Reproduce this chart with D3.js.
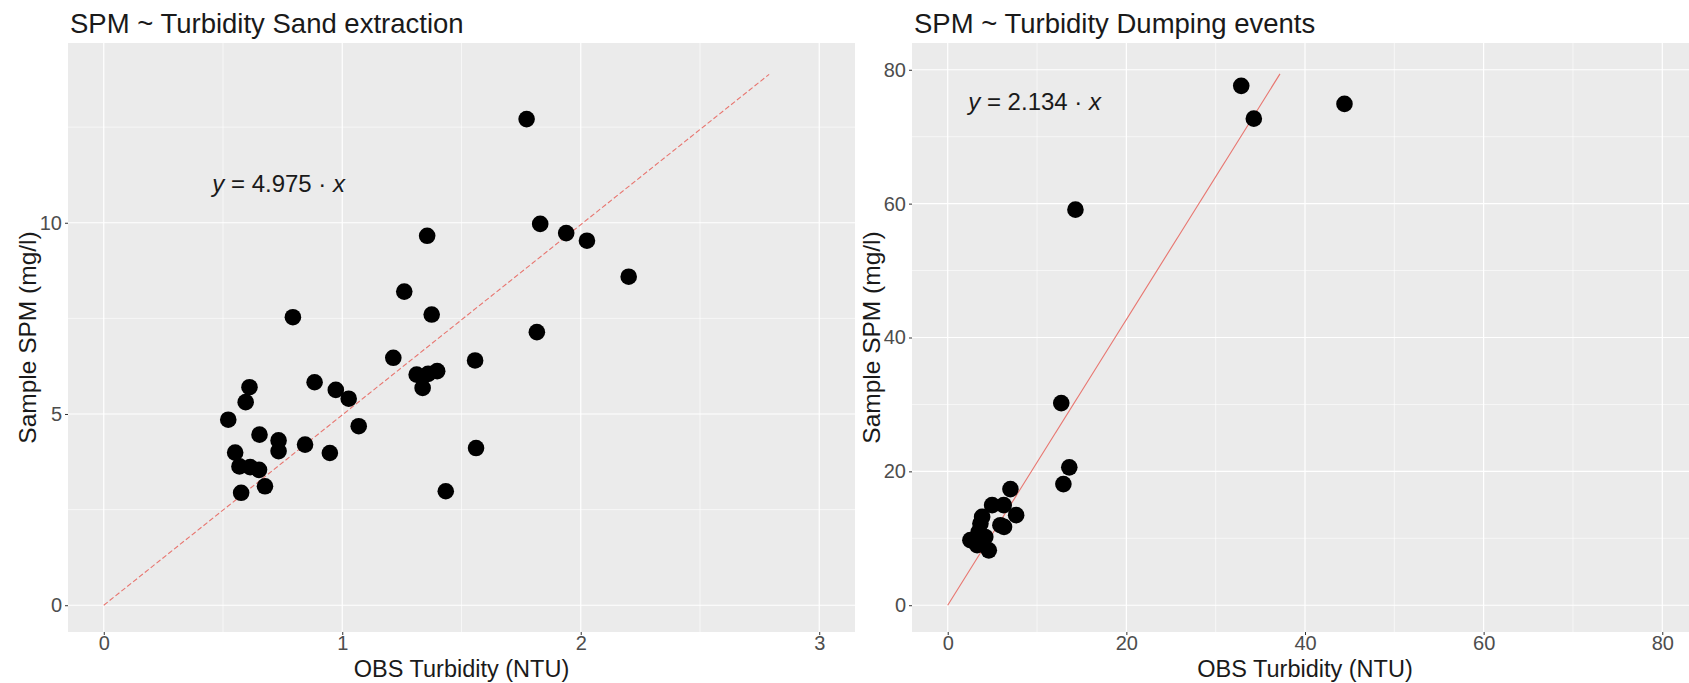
<!DOCTYPE html>
<html>
<head>
<meta charset="utf-8">
<script src="https://cdn.jsdelivr.net/npm/d3@7"></script>
<style>
  body { margin: 0; background: #fff; }
  svg { display: block; font-family: "Liberation Sans", Arial, sans-serif; }
</style>
</head>
<body>
<svg id="chart" width="1689" height="683"></svg>
<script>
// Sand extraction samples (OBS turbidity NTU, sample SPM mg/l)
const sandX = [1.773, 1.83, 1.939, 2.026, 2.201, 1.356, 1.26, 1.375, 0.793, 1.816,
               1.214, 1.557, 1.312, 1.36, 1.398, 1.337, 0.884, 0.973, 1.027, 1.069,
               0.611, 0.595, 0.522, 0.653, 0.733, 0.733, 0.844, 0.948, 1.561, 0.551,
               0.569, 0.614, 0.651, 0.576, 0.676, 1.434];
const sandY = [12.71, 9.97, 9.73, 9.53, 8.59, 9.66, 8.20, 7.60, 7.53, 7.14,
               6.47, 6.40, 6.03, 6.05, 6.12, 5.68, 5.83, 5.63, 5.40, 4.68,
               5.70, 5.31, 4.85, 4.46, 4.31, 4.03, 4.20, 3.98, 4.11, 3.99,
               3.63, 3.61, 3.54, 2.94, 3.11, 2.98];

// Dumping events samples
const dumpX = [32.86, 34.27, 44.42, 14.3, 12.71, 13.61, 12.95, 7.02, 7.66, 4.97,
               6.27, 3.85, 3.66, 5.9, 6.3, 3.47, 4.2, 2.54, 3.29, 4.6];
const dumpY = [77.6, 72.7, 74.9, 59.1, 30.2, 20.6, 18.1, 17.35, 13.46, 14.96,
               14.96, 13.2, 12.2, 11.96, 11.7, 10.96, 10.2, 9.72, 8.97, 8.2];

const titles = ['SPM ~ Turbidity Sand extraction', 'SPM ~ Turbidity Dumping events'];
const slopes = [4.975, 2.134];
const fitEndX = [2.79, 37.2];
const xLimits = [[0, 3], [0, 80]];
const yLimits = [[0, 14], [0, 80]];
const xMajor = [[0, 1, 2, 3], [0, 20, 40, 60, 80]];
const xMinor = [[0.5, 1.5, 2.5], [10, 30, 50, 70]];
const yMajor = [[0, 5, 10], [0, 20, 40, 60, 80]];
const yMinor = [[2.5, 7.5, 12.5], [10, 30, 50, 70]];
const labelAt = [[0.455, 10.8], [2.3, 74.0]];
const xTitle = 'OBS Turbidity (NTU)';
const yTitle = 'Sample SPM (mg/l)';

const svg = d3.select('#chart');

const panels = [
  { left: 68, right: 855, xs: sandX, ys: sandY, dash: '5,2.5' },
  { left: 912, right: 1698, xs: dumpX, ys: dumpY, dash: null }
];
const panelTop = 43, panelBottom = 632;

function expand(lim) {
  const pad = (lim[1] - lim[0]) * 0.05;
  return [lim[0] - pad, lim[1] + pad];
}

panels.forEach((p, i) => {
  const x = d3.scaleLinear().domain(expand(xLimits[i])).range([p.left, p.right]);
  const y = d3.scaleLinear().domain(expand(yLimits[i])).range([panelBottom, panelTop]);
  const g = svg.append('g');

  g.append('rect')
    .attr('x', p.left).attr('y', panelTop)
    .attr('width', p.right - p.left).attr('height', panelBottom - panelTop)
    .attr('fill', '#ebebeb');

  // grid lines
  g.selectAll('.xminor').data(xMinor[i]).join('line')
    .attr('x1', d => x(d)).attr('x2', d => x(d))
    .attr('y1', panelTop).attr('y2', panelBottom)
    .attr('stroke', '#fff').attr('stroke-width', 0.6);
  g.selectAll('.yminor').data(yMinor[i]).join('line')
    .attr('y1', d => y(d)).attr('y2', d => y(d))
    .attr('x1', p.left).attr('x2', p.right)
    .attr('stroke', '#fff').attr('stroke-width', 0.6);
  g.selectAll('.xmajor').data(xMajor[i]).join('line')
    .attr('x1', d => x(d)).attr('x2', d => x(d))
    .attr('y1', panelTop).attr('y2', panelBottom)
    .attr('stroke', '#fff').attr('stroke-width', 1.2);
  g.selectAll('.ymajor').data(yMajor[i]).join('line')
    .attr('y1', d => y(d)).attr('y2', d => y(d))
    .attr('x1', p.left).attr('x2', p.right)
    .attr('stroke', '#fff').attr('stroke-width', 1.2);

  // axes
  const xAxis = g.append('g')
    .attr('transform', `translate(0,${panelBottom})`)
    .call(d3.axisBottom(x).tickValues(xMajor[i]).tickSize(3).tickPadding(1).tickFormat(d3.format('d')));
  const yAxis = g.append('g')
    .attr('transform', `translate(${p.left},0)`)
    .call(d3.axisLeft(y).tickValues(yMajor[i]).tickSize(3).tickPadding(3).tickFormat(d3.format('d')));
  [xAxis, yAxis].forEach(a => {
    a.select('.domain').remove();
    a.selectAll('line').attr('stroke', '#333');
    a.selectAll('text').attr('fill', '#4d4d4d')
      .style('font-size', '20px').style('font-family', '"Liberation Sans", Arial, sans-serif');
  });

  // fitted line through origin
  const fit = [0, fitEndX[i]];
  g.append('path')
    .datum(fit)
    .attr('d', d3.line().x(d => x(d)).y(d => y(d * slopes[i])))
    .attr('stroke', '#e8756f')
    .attr('stroke-width', 1.1)
    .attr('stroke-dasharray', p.dash)
    .attr('fill', 'none');

  // points
  g.selectAll('circle')
    .data(p.xs.map((v, k) => [v, p.ys[k]]))
    .join('circle')
    .attr('cx', d => x(d[0]))
    .attr('cy', d => y(d[1]))
    .attr('r', 8.3)
    .attr('fill', '#000');

  // equation label
  const eq = g.append('text')
    .attr('x', x(labelAt[i][0]))
    .attr('y', y(labelAt[i][1]))
    .attr('fill', '#1a1a1a')
    .style('font-size', '24px');
  eq.append('tspan').attr('font-style', 'italic').text('y');
  eq.append('tspan').text(` = ${slopes[i].toFixed(3)} · `);
  eq.append('tspan').attr('font-style', 'italic').text('x');

  // titles
  g.append('text')
    .attr('x', p.left + 2).attr('y', 33)
    .attr('fill', '#1a1a1a')
    .style('font-size', '27.5px')
    .text(titles[i]);

  g.append('text')
    .attr('x', (p.left + p.right) / 2)
    .attr('y', 677)
    .attr('text-anchor', 'middle')
    .attr('fill', '#1a1a1a')
    .style('font-size', '23.5px')
    .text(xTitle);

  g.append('text')
    .attr('transform', `translate(${p.left - 32},${(panelTop + panelBottom) / 2}) rotate(-90)`)
    .attr('text-anchor', 'middle')
    .attr('fill', '#1a1a1a')
    .style('font-size', '24.5px')
    .text(yTitle);
});
</script>
</body>
</html>
